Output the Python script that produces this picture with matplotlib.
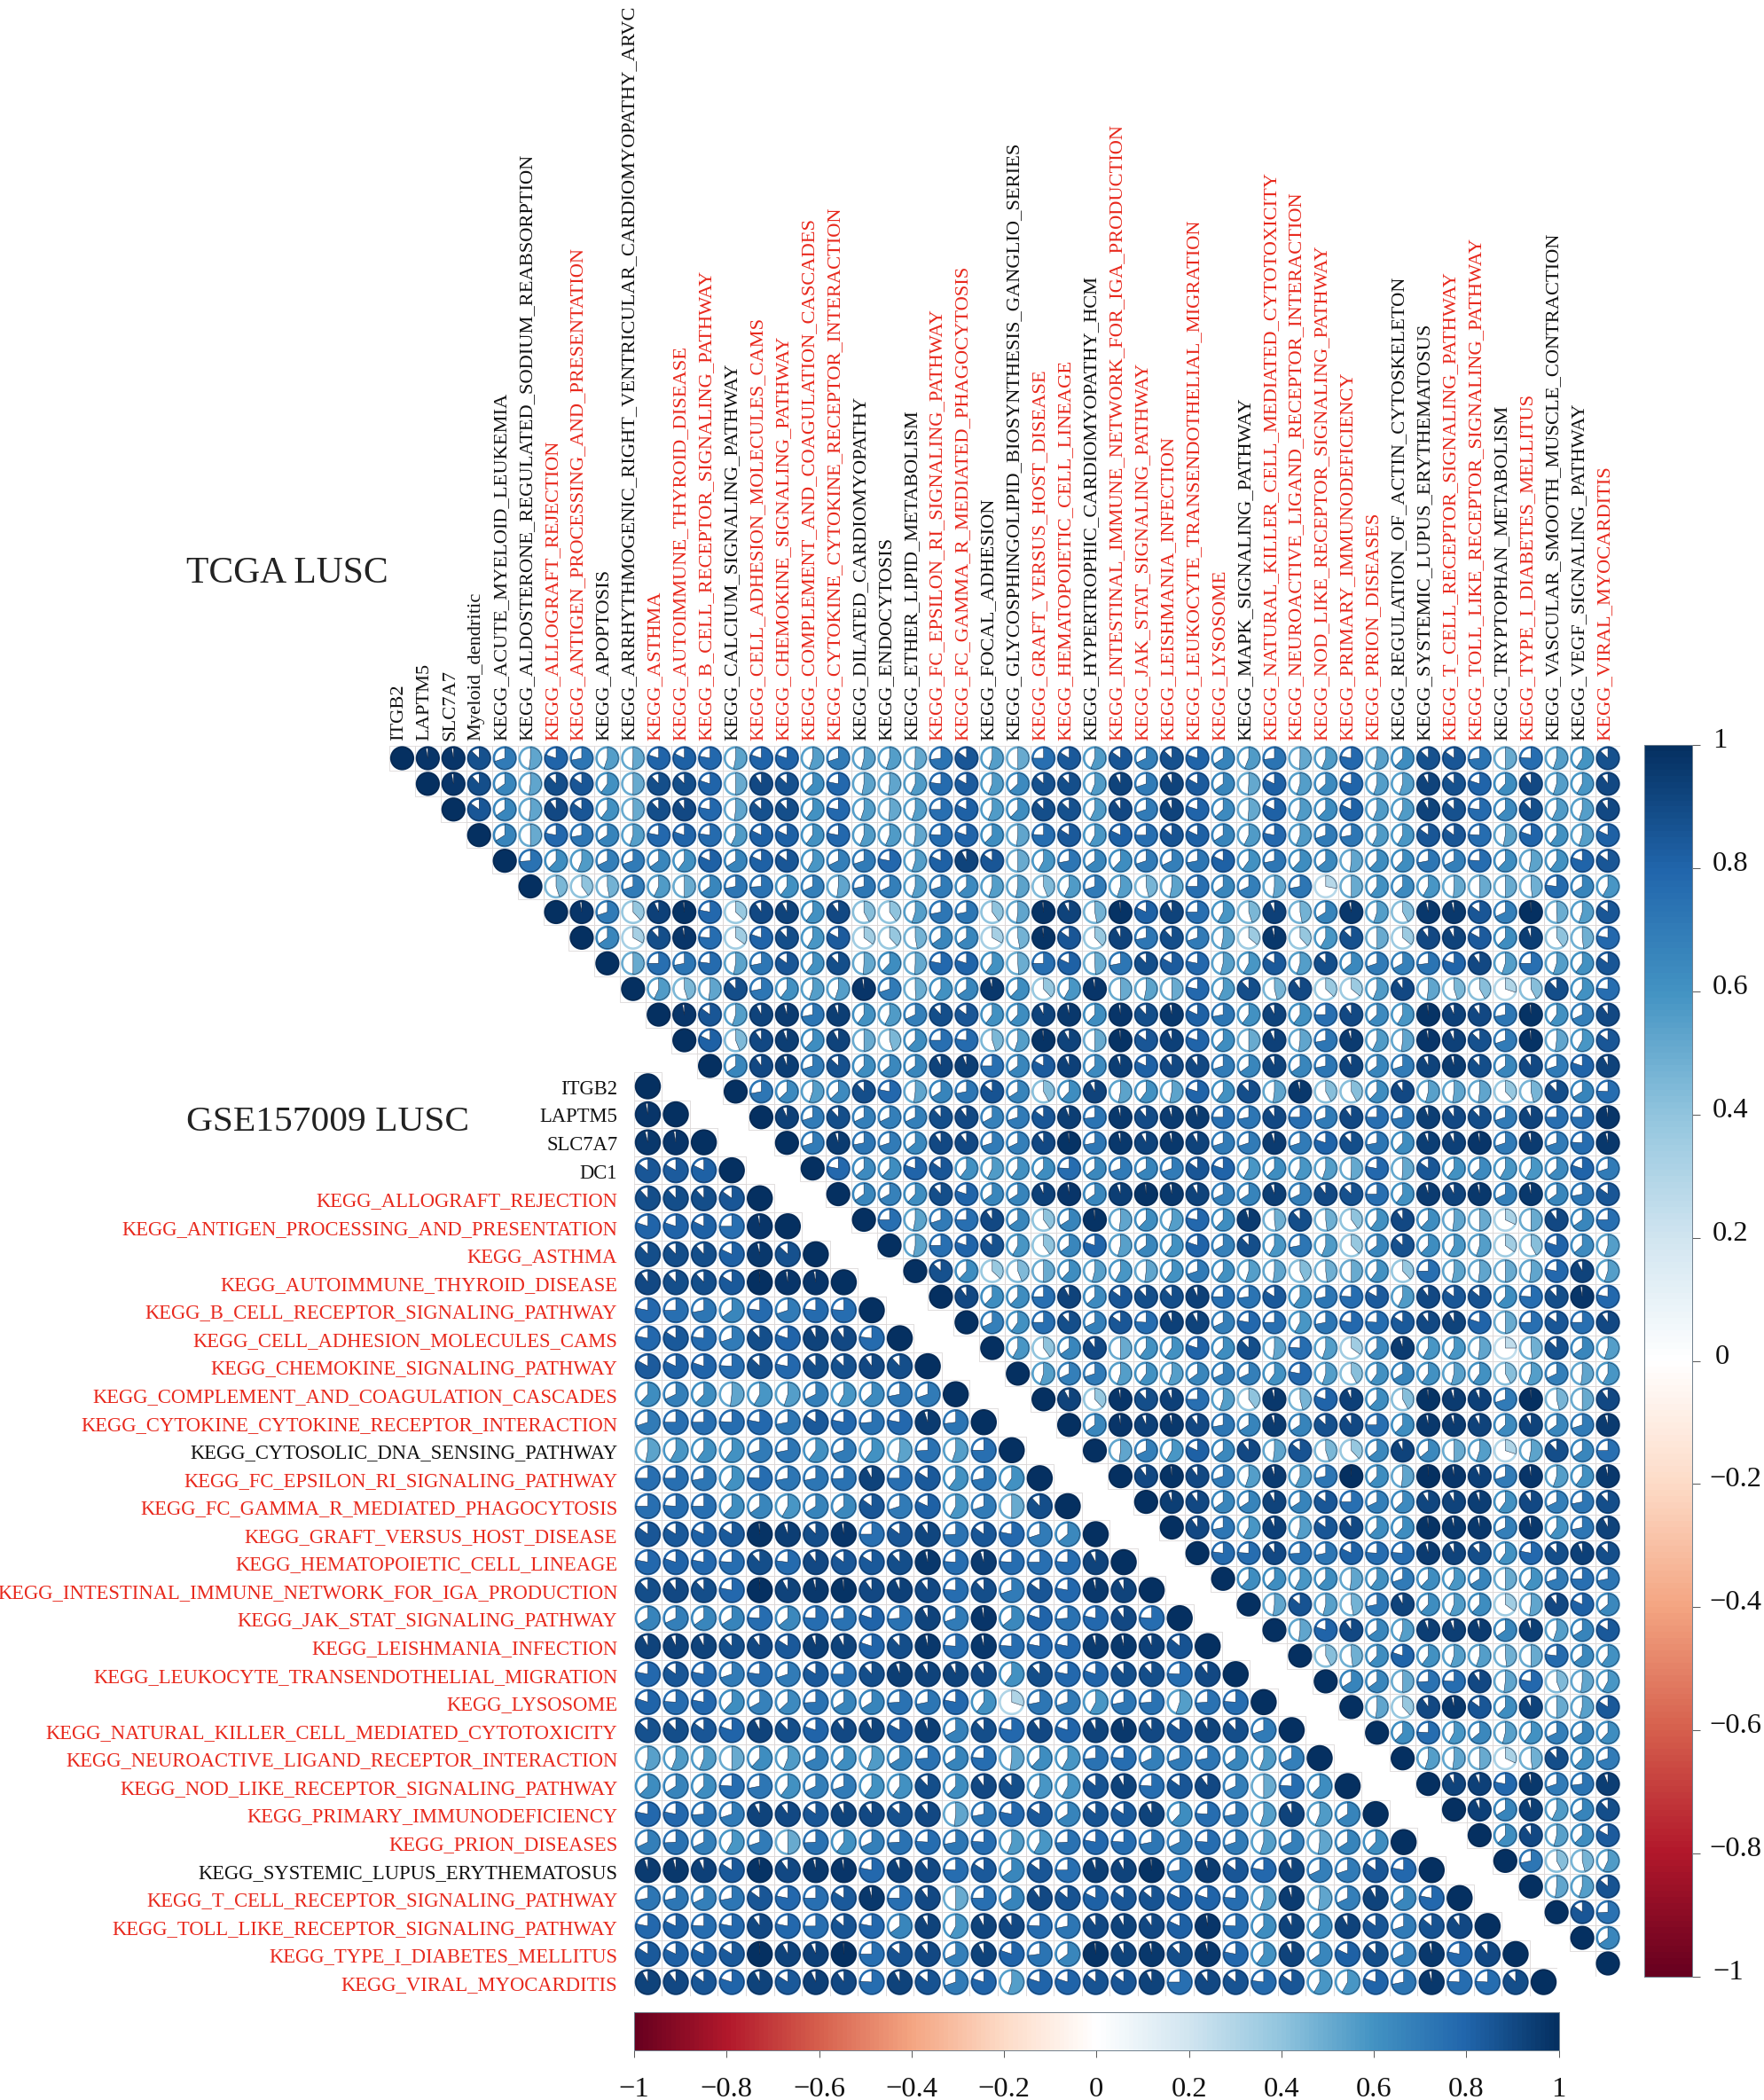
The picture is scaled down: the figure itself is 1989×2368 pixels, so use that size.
import matplotlib
matplotlib.use("Agg")
import matplotlib.pyplot as plt
import numpy as np
from matplotlib.colors import LinearSegmentedColormap, Normalize
from matplotlib.patches import Wedge, Circle, Rectangle
from matplotlib.collections import PatchCollection

plt.rcParams['font.family'] = ['Liberation Serif', 'DejaVu Serif']

top_labels = ["ITGB2","LAPTM5","SLC7A7","Myeloid_dendritic","KEGG_ACUTE_MYELOID_LEUKEMIA",
"KEGG_ALDOSTERONE_REGULATED_SODIUM_REABSORPTION","KEGG_ALLOGRAFT_REJECTION","KEGG_ANTIGEN_PROCESSING_AND_PRESENTATION",
"KEGG_APOPTOSIS","KEGG_ARRHYTHMOGENIC_RIGHT_VENTRICULAR_CARDIOMYOPATHY_ARVC","KEGG_ASTHMA","KEGG_AUTOIMMUNE_THYROID_DISEASE",
"KEGG_B_CELL_RECEPTOR_SIGNALING_PATHWAY","KEGG_CALCIUM_SIGNALING_PATHWAY","KEGG_CELL_ADHESION_MOLECULES_CAMS",
"KEGG_CHEMOKINE_SIGNALING_PATHWAY","KEGG_COMPLEMENT_AND_COAGULATION_CASCADES","KEGG_CYTOKINE_CYTOKINE_RECEPTOR_INTERACTION",
"KEGG_DILATED_CARDIOMYOPATHY","KEGG_ENDOCYTOSIS","KEGG_ETHER_LIPID_METABOLISM","KEGG_FC_EPSILON_RI_SIGNALING_PATHWAY",
"KEGG_FC_GAMMA_R_MEDIATED_PHAGOCYTOSIS","KEGG_FOCAL_ADHESION","KEGG_GLYCOSPHINGOLIPID_BIOSYNTHESIS_GANGLIO_SERIES",
"KEGG_GRAFT_VERSUS_HOST_DISEASE","KEGG_HEMATOPOIETIC_CELL_LINEAGE","KEGG_HYPERTROPHIC_CARDIOMYOPATHY_HCM",
"KEGG_INTESTINAL_IMMUNE_NETWORK_FOR_IGA_PRODUCTION","KEGG_JAK_STAT_SIGNALING_PATHWAY","KEGG_LEISHMANIA_INFECTION",
"KEGG_LEUKOCYTE_TRANSENDOTHELIAL_MIGRATION","KEGG_LYSOSOME","KEGG_MAPK_SIGNALING_PATHWAY",
"KEGG_NATURAL_KILLER_CELL_MEDIATED_CYTOTOXICITY","KEGG_NEUROACTIVE_LIGAND_RECEPTOR_INTERACTION",
"KEGG_NOD_LIKE_RECEPTOR_SIGNALING_PATHWAY","KEGG_PRIMARY_IMMUNODEFICIENCY","KEGG_PRION_DISEASES",
"KEGG_REGULATION_OF_ACTIN_CYTOSKELETON","KEGG_SYSTEMIC_LUPUS_ERYTHEMATOSUS","KEGG_T_CELL_RECEPTOR_SIGNALING_PATHWAY",
"KEGG_TOLL_LIKE_RECEPTOR_SIGNALING_PATHWAY","KEGG_TRYPTOPHAN_METABOLISM","KEGG_TYPE_I_DIABETES_MELLITUS",
"KEGG_VASCULAR_SMOOTH_MUSCLE_CONTRACTION","KEGG_VEGF_SIGNALING_PATHWAY","KEGG_VIRAL_MYOCARDITIS"]

row_labels = ["ITGB2","LAPTM5","SLC7A7","DC1","KEGG_ALLOGRAFT_REJECTION","KEGG_ANTIGEN_PROCESSING_AND_PRESENTATION",
"KEGG_ASTHMA","KEGG_AUTOIMMUNE_THYROID_DISEASE","KEGG_B_CELL_RECEPTOR_SIGNALING_PATHWAY","KEGG_CELL_ADHESION_MOLECULES_CAMS",
"KEGG_CHEMOKINE_SIGNALING_PATHWAY","KEGG_COMPLEMENT_AND_COAGULATION_CASCADES","KEGG_CYTOKINE_CYTOKINE_RECEPTOR_INTERACTION",
"KEGG_CYTOSOLIC_DNA_SENSING_PATHWAY","KEGG_FC_EPSILON_RI_SIGNALING_PATHWAY","KEGG_FC_GAMMA_R_MEDIATED_PHAGOCYTOSIS",
"KEGG_GRAFT_VERSUS_HOST_DISEASE","KEGG_HEMATOPOIETIC_CELL_LINEAGE","KEGG_INTESTINAL_IMMUNE_NETWORK_FOR_IGA_PRODUCTION",
"KEGG_JAK_STAT_SIGNALING_PATHWAY","KEGG_LEISHMANIA_INFECTION","KEGG_LEUKOCYTE_TRANSENDOTHELIAL_MIGRATION","KEGG_LYSOSOME",
"KEGG_NATURAL_KILLER_CELL_MEDIATED_CYTOTOXICITY","KEGG_NEUROACTIVE_LIGAND_RECEPTOR_INTERACTION",
"KEGG_NOD_LIKE_RECEPTOR_SIGNALING_PATHWAY","KEGG_PRIMARY_IMMUNODEFICIENCY","KEGG_PRION_DISEASES",
"KEGG_SYSTEMIC_LUPUS_ERYTHEMATOSUS","KEGG_T_CELL_RECEPTOR_SIGNALING_PATHWAY","KEGG_TOLL_LIKE_RECEPTOR_SIGNALING_PATHWAY",
"KEGG_TYPE_I_DIABETES_MELLITUS","KEGG_VIRAL_MYOCARDITIS"]

red_labels = ["KEGG_ALLOGRAFT_REJECTION","KEGG_ANTIGEN_PROCESSING_AND_PRESENTATION","KEGG_ASTHMA","KEGG_AUTOIMMUNE_THYROID_DISEASE",
"KEGG_B_CELL_RECEPTOR_SIGNALING_PATHWAY","KEGG_CELL_ADHESION_MOLECULES_CAMS","KEGG_CHEMOKINE_SIGNALING_PATHWAY",
"KEGG_COMPLEMENT_AND_COAGULATION_CASCADES","KEGG_CYTOKINE_CYTOKINE_RECEPTOR_INTERACTION","KEGG_FC_EPSILON_RI_SIGNALING_PATHWAY",
"KEGG_FC_GAMMA_R_MEDIATED_PHAGOCYTOSIS","KEGG_GRAFT_VERSUS_HOST_DISEASE","KEGG_HEMATOPOIETIC_CELL_LINEAGE",
"KEGG_INTESTINAL_IMMUNE_NETWORK_FOR_IGA_PRODUCTION","KEGG_JAK_STAT_SIGNALING_PATHWAY","KEGG_LEISHMANIA_INFECTION",
"KEGG_LEUKOCYTE_TRANSENDOTHELIAL_MIGRATION","KEGG_LYSOSOME","KEGG_NATURAL_KILLER_CELL_MEDIATED_CYTOTOXICITY",
"KEGG_NEUROACTIVE_LIGAND_RECEPTOR_INTERACTION","KEGG_NOD_LIKE_RECEPTOR_SIGNALING_PATHWAY","KEGG_PRIMARY_IMMUNODEFICIENCY",
"KEGG_PRION_DISEASES","KEGG_T_CELL_RECEPTOR_SIGNALING_PATHWAY","KEGG_TOLL_LIKE_RECEPTOR_SIGNALING_PATHWAY",
"KEGG_TYPE_I_DIABETES_MELLITUS","KEGG_VIRAL_MYOCARDITIS"]

# TCGA LUSC: for each row, correlations with the columns to the right of the diagonal
tcga_rows = [
[.97,.97,.87,.70,.52,.80,.72,.55,.51,.80,.82,.78,.53,.80,.80,.55,.70,.54,.55,.51,.73,.85,.55,.50,.75,.84,.56,.85,.68,.87,.80,.66,.56,.73,.51,.56,.78,.54,.62,.87,.85,.73,.50,.76,.55,.59,.87],
[.97,.88,.65,.52,.88,.85,.60,.50,.88,.88,.80,.50,.90,.87,.62,.78,.53,.52,.57,.77,.83,.56,.63,.87,.88,.56,.92,.70,.92,.83,.65,.51,.82,.55,.63,.80,.55,.55,.92,.87,.80,.62,.90,.55,.58,.90],
[.85,.65,.52,.90,.85,.60,.50,.88,.90,.78,.52,.87,.88,.60,.78,.55,.51,.55,.75,.82,.56,.62,.88,.87,.57,.90,.70,.92,.80,.63,.51,.82,.56,.62,.82,.56,.57,.92,.87,.77,.63,.88,.57,.55,.90],
[.66,.50,.78,.72,.66,.55,.78,.80,.77,.57,.82,.82,.60,.78,.56,.56,.52,.76,.80,.62,.52,.76,.84,.58,.82,.75,.86,.82,.66,.57,.78,.56,.70,.72,.57,.58,.85,.85,.76,.53,.80,.60,.55,.82],
[.74,.62,.56,.68,.70,.65,.60,.82,.66,.82,.85,.58,.68,.70,.78,.55,.82,.92,.85,.50,.58,.72,.65,.62,.70,.68,.72,.82,.60,.72,.62,.64,.52,.62,.62,.72,.68,.76,.62,.53,.60,.80,.85],
[.45,.40,.47,.70,.57,.50,.65,.72,.74,.60,.68,.52,.72,.68,.55,.70,.63,.55,.53,.44,.57,.70,.55,.46,.53,.75,.65,.68,.52,.72,.28,.50,.60,.63,.58,.51,.50,.50,.48,.77,.66,.58],
[.97,.70,.38,.93,.98,.78,.37,.90,.92,.60,.90,.42,.40,.55,.72,.72,.40,.52,.98,.92,.47,.98,.82,.92,.75,.58,.45,.93,.47,.66,.96,.55,.42,.96,.96,.85,.68,.99,.49,.55,.85],
[.65,.33,.88,.97,.76,.35,.80,.88,.58,.83,.35,.38,.47,.65,.65,.33,.47,.98,.85,.38,.92,.72,.88,.70,.53,.36,.96,.38,.58,.87,.50,.36,.90,.92,.83,.62,.94,.40,.48,.78],
[.50,.75,.72,.77,.53,.72,.85,.60,.88,.51,.62,.51,.78,.80,.60,.49,.75,.82,.49,.72,.88,.83,.78,.54,.58,.84,.55,.88,.64,.70,.67,.73,.80,.90,.55,.75,.55,.60,.85],
[.57,.45,.52,.88,.72,.60,.55,.55,.97,.70,.49,.60,.65,.96,.62,.38,.58,.97,.50,.53,.50,.78,.57,.88,.46,.90,.37,.36,.56,.90,.52,.45,.42,.30,.42,.88,.60,.76],
[.97,.85,.55,.92,.95,.72,.94,.60,.57,.68,.88,.85,.60,.62,.92,.96,.62,.97,.88,.96,.82,.72,.60,.92,.60,.75,.90,.63,.58,.98,.93,.90,.72,.98,.60,.68,.90],
[.82,.44,.90,.94,.62,.92,.50,.45,.62,.75,.77,.45,.55,.98,.92,.50,.98,.85,.93,.80,.62,.50,.93,.52,.72,.95,.57,.52,.97,.93,.87,.70,.98,.52,.58,.85],
[.65,.90,.94,.70,.87,.62,.64,.65,.92,.94,.75,.65,.83,.93,.63,.94,.82,.90,.90,.70,.65,.92,.65,.72,.92,.65,.70,.92,.95,.88,.65,.90,.70,.80,.92],
[.72,.63,.55,.63,.88,.78,.52,.66,.72,.86,.66,.42,.62,.92,.53,.60,.53,.80,.60,.88,.52,.96,.42,.42,.62,.90,.54,.52,.52,.38,.46,.88,.66,.76],
[.93,.70,.88,.68,.68,.68,.88,.90,.67,.70,.85,.94,.73,.96,.89,.95,.95,.75,.72,.90,.75,.70,.90,.75,.72,.94,.90,.88,.70,.92,.75,.75,.97],
[.70,.95,.72,.70,.64,.90,.90,.70,.68,.90,.98,.72,.96,.92,.96,.92,.70,.70,.95,.70,.80,.88,.72,.62,.94,.93,.97,.70,.95,.70,.76,.96],
[.78,.63,.62,.80,.85,.60,.57,.60,.62,.76,.64,.70,.66,.70,.85,.80,.58,.62,.58,.55,.51,.78,.51,.85,.60,.63,.58,.58,.63,.80,.70],
[.65,.67,.62,.88,.80,.65,.66,.93,.97,.65,.94,.98,.96,.92,.68,.66,.94,.68,.90,.87,.75,.60,.95,.92,.96,.68,.96,.65,.72,.85],
[.75,.53,.70,.75,.90,.65,.40,.66,.98,.52,.62,.55,.78,.62,.95,.48,.88,.48,.40,.60,.90,.62,.52,.50,.32,.50,.90,.65,.75],
[.53,.75,.80,.87,.58,.40,.65,.80,.54,.65,.60,.80,.67,.88,.58,.72,.56,.38,.65,.87,.62,.58,.55,.35,.42,.80,.63,.55],
[.87,.62,.37,.44,.50,.62,.54,.58,.52,.60,.70,.60,.55,.52,.43,.48,.50,.60,.38,.75,.53,.52,.50,.52,.78,.92,.55],
[.90,.62,.62,.75,.92,.63,.85,.88,.88,.93,.75,.73,.84,.60,.72,.76,.83,.57,.90,.85,.86,.62,.76,.88,.97,.78],
[.68,.60,.75,.88,.68,.85,.76,.93,.92,.68,.78,.75,.58,.72,.78,.76,.84,.90,.92,.80,.50,.75,.85,.75,.90],
[.58,.40,.65,.90,.50,.60,.60,.80,.62,.88,.52,.76,.55,.35,.63,.95,.58,.58,.52,.25,.48,.87,.65,.55],
[.55,.68,.70,.55,.60,.55,.65,.68,.68,.60,.78,.55,.42,.60,.66,.60,.54,.60,.42,.55,.68,.52,.58],
[.92,.38,.97,.88,.93,.75,.55,.40,.96,.46,.80,.93,.62,.42,.98,.95,.93,.70,.99,.46,.50,.90],
[.65,.97,.93,.96,.90,.72,.66,.95,.66,.87,.90,.75,.62,.96,.95,.92,.63,.92,.65,.70,.95],
[.52,.68,.58,.82,.64,.90,.52,.86,.45,.38,.64,.92,.64,.50,.55,.30,.53,.88,.65,.75],
[.90,.98,.90,.70,.55,.95,.57,.72,.99,.62,.52,.99,.97,.93,.70,.97,.55,.60,.96],
[.94,.90,.65,.66,.92,.66,.85,.75,.68,.63,.91,.92,.94,.60,.90,.68,.72,.88],
[.90,.72,.58,.93,.55,.85,.90,.62,.62,.98,.96,.96,.68,.96,.60,.72,.92],
[.77,.76,.90,.74,.72,.82,.76,.76,.95,.92,.88,.60,.78,.88,.93,.88],
[.62,.62,.58,.62,.52,.60,.70,.62,.58,.66,.50,.60,.70,.75,.72],
[.52,.86,.54,.47,.72,.92,.62,.56,.62,.35,.52,.90,.82,.64],
[.52,.80,.90,.65,.55,.94,.94,.95,.65,.94,.55,.66,.84],
[.42,.48,.62,.80,.60,.55,.55,.48,.50,.77,.64,.60],
[.66,.65,.50,.74,.76,.90,.52,.78,.44,.52,.58],
[.52,.38,.90,.96,.85,.62,.92,.50,.54,.84],
[.62,.76,.58,.64,.54,.60,.68,.66,.62],
[.55,.52,.50,.32,.48,.88,.62,.70],
[.92,.93,.78,.96,.70,.73,.94],
[.93,.66,.94,.57,.66,.88],
[.62,.90,.54,.62,.83],
[.72,.42,.46,.57],
[.52,.55,.86],
[.85,.74],
[.65],
[],
]

# GSE157009 LUSC: for each row, correlations with the columns left of the diagonal
gse_rows = [
[],
[.97],
[.96,.97],
[.85,.83,.82],
[.88,.88,.88,.85],
[.80,.80,.82,.75,.97],
[.88,.88,.88,.82,.96,.87],
[.90,.88,.88,.84,.99,.97,.97],
[.78,.75,.72,.65,.77,.70,.77,.76],
[.78,.84,.77,.70,.88,.80,.92,.90,.77],
[.83,.82,.80,.76,.87,.78,.88,.87,.90,.88],
[.62,.68,.62,.52,.58,.55,.68,.58,.63,.72,.70],
[.70,.75,.75,.76,.78,.72,.84,.78,.74,.78,.95,.73],
[.53,.58,.60,.60,.70,.72,.60,.70,.60,.53,.74,.55,.75],
[.75,.75,.72,.60,.76,.72,.72,.74,.92,.75,.84,.60,.72,.60],
[.75,.76,.75,.62,.65,.58,.66,.64,.85,.70,.82,.58,.70,.50,.88],
[.85,.84,.82,.84,.98,.94,.88,.97,.75,.85,.91,.74,.85,.78,.70,.64],
[.78,.80,.78,.76,.88,.77,.90,.85,.84,.88,.96,.76,.95,.76,.75,.76,.92],
[.88,.90,.88,.78,.99,.92,.96,.98,.90,.93,.90,.76,.88,.70,.85,.78,.96,.92],
[.66,.68,.65,.66,.76,.64,.76,.74,.80,.74,.92,.70,.97,.64,.80,.74,.78,.90,.76],
[.92,.93,.92,.88,.90,.84,.94,.92,.80,.88,.96,.76,.96,.76,.78,.78,.95,.96,.93,.86],
[.78,.85,.78,.70,.77,.70,.84,.75,.88,.94,.92,.92,.90,.60,.88,.78,.80,.88,.88,.76,.90],
[.80,.76,.78,.62,.67,.63,.74,.66,.66,.74,.72,.78,.60,.30,.72,.70,.58,.72,.74,.55,.74,.76],
[.87,.88,.85,.80,.92,.88,.80,.90,.92,.83,.94,.67,.88,.78,.90,.80,.92,.96,.90,.85,.92,.88,.70],
[.54,.56,.56,.50,.62,.56,.68,.62,.56,.66,.74,.66,.76,.52,.62,.58,.74,.76,.68,.70,.72,.65,.56,.68],
[.62,.66,.62,.76,.72,.60,.68,.70,.60,.60,.88,.62,.90,.88,.58,.58,.86,.92,.76,.85,.90,.68,.50,.76,.62],
[.78,.78,.74,.70,.92,.90,.85,.92,.90,.87,.90,.52,.72,.78,.84,.66,.86,.84,.92,.62,.76,.72,.55,.92,.56,.66],
[.68,.74,.68,.58,.70,.50,.74,.60,.68,.74,.76,.72,.76,.56,.58,.74,.78,.76,.72,.68,.76,.70,.55,.68,.52,.66,.62],
[.95,.96,.93,.84,.98,.90,.96,.97,.78,.93,.90,.76,.84,.65,.85,.75,.94,.92,.98,.73,.95,.85,.78,.92,.68,.70,.85,.78],
[.72,.72,.68,.72,.85,.78,.75,.84,.96,.75,.90,.50,.75,.66,.90,.86,.82,.85,.86,.82,.80,.76,.55,.95,.52,.68,.92,.65,.78],
[.78,.82,.76,.78,.90,.78,.75,.86,.78,.65,.92,.58,.92,.90,.76,.72,.90,.92,.90,.82,.97,.76,.62,.92,.62,.92,.85,.70,.86,.90],
[.84,.82,.82,.84,.99,.92,.93,.99,.75,.86,.90,.68,.92,.80,.73,.65,.98,.92,.96,.88,.96,.78,.60,.92,.65,.82,.88,.68,.96,.78,.90],
[.92,.90,.85,.80,.92,.84,.93,.90,.76,.92,.86,.70,.80,.55,.80,.80,.86,.85,.92,.75,.90,.86,.77,.85,.58,.58,.80,.72,.96,.76,.76,.88],
]

bar_ticks = [-1, -0.8, -0.6, -0.4, -0.2, 0, 0.2, 0.4, 0.6, 0.8, 1]
bar_tick_labels = ["\u22121", "\u22120.8", "\u22120.6", "\u22120.4", "\u22120.2", "0", "0.2", "0.4", "0.6", "0.8", "1"]

W, H = 1990, 2368
fig = plt.figure(figsize=(W/100, H/100), dpi=100, facecolor='white')
RED = '#e8281c'
cmap = LinearSegmentedColormap.from_list('corr', ['#67001F','#B2182B','#D6604D','#F4A582','#FDDBC7','#FFFFFF',
                                                   '#D1E5F0','#92C5DE','#4393C3','#2166AC','#053061'], N=200)
norm = Normalize(-1, 1)

def add_ax(x0, y0, x1, y1):
    return fig.add_axes([x0/W, 1-y1/H, (x1-x0)/W, (y1-y0)/H])

def pie_panel(ax, n, cells):
    ax.set_xlim(-.5, n-.5); ax.set_ylim(n-.5, -.5); ax.axis('off')
    grid, rings, pies, cols = [], [], [], []
    for r, c, v in cells:
        grid.append(Rectangle((c-.5, r-.5), 1, 1))
        rings.append(Circle((c, r), .425))
        pies.append(Wedge((c, r), .425, -90, -90+360*v))
        cols.append(cmap(norm(v)))
    ax.add_collection(PatchCollection(grid, facecolor='none', edgecolor='#dcd8d8', linewidth=.6, match_original=False))
    ax.add_collection(PatchCollection(rings, facecolor='white', edgecolor=cols, linewidth=1.9))
    ax.add_collection(PatchCollection(pies, facecolor=cols, edgecolor='#10203a', linewidth=.35))

# upper triangle panel
ax1 = add_ax(439, 840.5, 1827.5, 2228.5)
cells1 = []
for r, row in enumerate(tcga_rows):
    if len(row) != 47-r:
        raise ValueError(f"tcga row {r}: {len(row)} vs {47-r}")
    cells1.append((r, r, 1.0))
    for k, v in enumerate(row):
        cells1.append((r, r+1+k, v))
pie_panel(ax1, 48, cells1)
for c, name in enumerate(top_labels):
    ax1.text(c-.12, -.7, name, rotation=90, ha='center', va='bottom', fontsize=16.2, clip_on=False,
             color=RED if name in red_labels else '#111111')

# lower triangle panel
ax2 = add_ax(714.7, 1209.2, 1756.3, 2250.8)
cells2 = []
for r, row in enumerate(gse_rows):
    if len(row) != r:
        raise ValueError(f"gse row {r}: {len(row)}")
    cells2.append((r, r, 1.0))
    for c, v in enumerate(row):
        cells2.append((r, c, v))
pie_panel(ax2, 33, cells2)
for r, name in enumerate(row_labels):
    ax2.text(-1.08, r+.28, name, ha='right', va='baseline', fontsize=16.25, clip_on=False,
             color=RED if name in red_labels else '#111111')

fig.text(210/W, 1-657/H, "TCGA LUSC", fontsize=30, ha='left', va='baseline', color='#222222')
fig.text(210/W, 1-1275/H, "GSE157009 LUSC", fontsize=29.8, ha='left', va='baseline', color='#222222')

grad = np.linspace(-1, 1, 401)
mid = (grad[:-1]+grad[1:])/2
# right colour bar
cb1 = add_ax(1854, 840, 1908, 2229)
cb1.pcolormesh([0, 1], grad, mid[:, None], cmap=cmap, norm=norm, shading='flat')
cb1.set_ylim(-1, 1); cb1.set_xticks([])
cb1.yaxis.tick_right()
cb1.set_yticks(bar_ticks); cb1.set_yticklabels([])
cb1.tick_params(axis='y', length=6.5, width=.7, color='#555555')
for s in cb1.spines.values():
    s.set_linewidth(.7); s.set_color('#6f7f8c')
for t, lab in zip(bar_ticks, bar_tick_labels):
    left = 1931 if (t > 0 or t == -1) else (1934 if t == 0 else 1927)
    cb1.annotate(lab, xy=(0, t), xycoords=('axes fraction', 'data'), xytext=((left-1854)*.72, 3.2),
                 textcoords='offset points', ha='left', va='center', fontsize=23.4, color='#111111')

# bottom colour bar
cb2 = add_ax(715, 2269, 1757.5, 2312)
cb2.pcolormesh(grad, [0, 1], mid[None, :], cmap=cmap, norm=norm, shading='flat')
cb2.set_xlim(-1, 1); cb2.set_yticks([])
cb2.set_xticks(bar_ticks); cb2.set_xticklabels(bar_tick_labels, fontsize=23.4, color='#111111')
cb2.tick_params(axis='x', length=6, width=.7, color='#555555', pad=15.4)
for s in cb2.spines.values():
    s.set_linewidth(.7); s.set_color('#6f7f8c')

fig.savefig('out.png', dpi=100)
